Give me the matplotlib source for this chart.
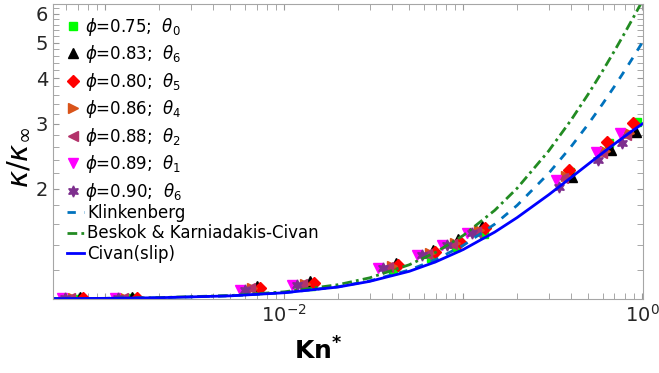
import matplotlib
matplotlib.use("Agg")
import matplotlib.pyplot as plt
import numpy as np
from matplotlib.ticker import FixedLocator, NullFormatter

# measured points, one list per series (legend order)
labels = [r"$\phi$=0.75;  $\theta_0$", r"$\phi$=0.83;  $\theta_6$",
          r"$\phi$=0.80;  $\theta_5$", r"$\phi$=0.86;  $\theta_4$",
          r"$\phi$=0.88;  $\theta_2$", r"$\phi$=0.89;  $\theta_1$",
          r"$\phi$=0.90;  $\theta_6$"]

kn_075 = [7.07e-4, 1.397e-3, 7.16e-3, 1.415e-2, 4.06e-2, 6.63e-2, 9.14e-2, 0.131, 0.396, 0.654, 0.938]
k_075 = [1.002, 1.004, 1.058, 1.085, 1.200, 1.293, 1.386, 1.503, 2.218, 2.661, 3.036]
kn_083 = [7.25e-4, 1.415e-3, 7.07e-3, 1.397e-2, 4.22e-2, 6.80e-2, 9.38e-2, 0.1277, 0.406, 0.671, 0.926]
k_083 = [1.010, 1.014, 1.085, 1.119, 1.254, 1.360, 1.457, 1.581, 2.150, 2.547, 2.850]
kn_080 = [7.54e-4, 1.510e-3, 7.34e-3, 1.471e-2, 4.34e-2, 6.98e-2, 9.62e-2, 0.1327, 0.391, 0.637, 0.891]
k_080 = [1.006, 1.009, 1.071, 1.106, 1.238, 1.343, 1.430, 1.561, 2.246, 2.678, 3.017]
kn_086 = [6.63e-4, 1.293e-3, 6.63e-3, 1.31e-2, 4.01e-2, 6.54e-2, 9.02e-2, 0.1229, 0.376, 0.621, 0.846]
k_086 = [1.006, 1.009, 1.071, 1.099, 1.230, 1.335, 1.421, 1.542, 2.163, 2.531, 2.834]
kn_088 = [6.38e-4, 1.260e-3, 6.46e-3, 1.260e-2, 3.81e-2, 6.30e-2, 8.68e-2, 0.1182, 0.362, 0.598, 0.814]
k_088 = [1.005, 1.008, 1.071, 1.099, 1.222, 1.326, 1.412, 1.522, 2.136, 2.499, 2.798]
kn_089 = [5.75e-4, 1.137e-3, 5.68e-3, 1.108e-2, 3.35e-2, 5.53e-2, 7.63e-2, 0.1053, 0.331, 0.553, 0.754]
k_089 = [1.004, 1.006, 1.058, 1.092, 1.215, 1.318, 1.403, 1.513, 2.110, 2.515, 2.834]
kn_090 = [5.98e-4, 1.182e-3, 6.05e-3, 1.182e-2, 3.57e-2, 5.90e-2, 8.14e-2, 0.1123, 0.344, 0.568, 0.773]
k_090 = [1.004, 1.006, 1.058, 1.092, 1.215, 1.318, 1.403, 1.513, 2.020, 2.392, 2.661]

# model curves
kn_curve = [5e-4, 1e-3, 2e-3, 5e-3, 1e-2, 2e-2, 3e-2, 5e-2, 0.07, 0.1, 0.15,
            0.2, 0.3, 0.4, 0.5, 0.6, 0.7, 0.8, 0.9, 1.0]
klink = [1.002, 1.004, 1.008, 1.02, 1.04, 1.08, 1.12, 1.2, 1.28, 1.4, 1.6,
         1.8, 2.2, 2.6, 3.0, 3.4, 3.8, 4.2, 4.6, 5.0]
beskok = [1.002, 1.004, 1.009, 1.022, 1.046, 1.094, 1.142, 1.240, 1.340, 1.490, 1.745,
          2.004, 2.532, 3.072, 3.622, 4.180, 4.747, 5.320, 5.898, 6.482]
civan = [1.002, 1.004, 1.008, 1.020, 1.040, 1.078, 1.117, 1.190, 1.262, 1.364, 1.522,
         1.667, 1.923, 2.143, 2.333, 2.500, 2.647, 2.778, 2.895, 3.0]

kns = [kn_075, kn_083, kn_080, kn_086, kn_088, kn_089, kn_090]
ks = [k_075, k_083, k_080, k_086, k_088, k_089, k_090]
colors = ["#00ff00", "black", "#ff0000", "#d95319", "#b3336b", "#ff00ff", "#7e2f8e"]
markers = ["s", "^", "D", ">", "<", "v", (6, 1, 0)]
msizes = [6, 7, 6, 7, 7, 6.5, 8]

fig = plt.figure(figsize=(6.59, 3.73), dpi=100)
ax = fig.add_axes([0.0804, 0.1984, 0.8953, 0.7909])

pts = []
for kn, k, c, m, ms, lab in zip(kns, ks, colors, markers, msizes, labels):
    h, = ax.plot(kn, k, linestyle="none", marker=m, color=c, markersize=ms, label=lab)
    pts.append(h)

l1, = ax.plot(kn_curve, klink, color="#0072bd", lw=2, dashes=(3, 3), label="Klinkenberg")
l2, = ax.plot(kn_curve, beskok, color="#228b22", lw=2, dashes=(3.5, 1.5, 1, 1.5),
              label="Beskok & Karniadakis-Civan")
l3, = ax.plot(kn_curve, civan, color="#0000ff", lw=2, label="Civan(slip)")

ax.set_xscale("log")
ax.set_yscale("log")
ax.set_xlim(5.1e-4, 1.01)
ax.set_ylim(1.0, 6.37)

ax.xaxis.set_major_locator(FixedLocator([1e-3, 1e-2, 1e-1, 1.0]))
ax.set_xticklabels(["", r"$\mathdefault{10^{-2}}$", "", r"$\mathdefault{10^{0}}$"])
minor_x = [m * 10.0 ** e for e in (-4, -3, -2, -1) for m in range(2, 10)]
ax.xaxis.set_minor_locator(FixedLocator(minor_x))
ax.xaxis.set_minor_formatter(NullFormatter())

ax.yaxis.set_major_locator(FixedLocator([2, 3, 4, 5, 6]))
ax.set_yticklabels(["2", "3", "4", "5", "6"])
ax.yaxis.set_minor_locator(FixedLocator(list(np.arange(1.2, 6.4, 0.2))))
ax.yaxis.set_minor_formatter(NullFormatter())

ax.tick_params(which="both", direction="in", top=True, right=True, length=4,
               color="0.6", labelsize=14, labelcolor="#262626")
for sp in ax.spines.values():
    sp.set_color("0.65")

ax.set_ylabel(r"$\kappa/\kappa_\infty$", fontsize=21)
ax.yaxis.set_label_coords(-0.035, 0.48)
ax.set_xlabel(r"Kn$^{\mathbf{*}}$", fontsize=18, fontweight="bold", labelpad=4)
ax.xaxis.set_label_coords(0.45, -0.13)

leg1 = ax.legend(handles=pts, loc="upper left", frameon=False, fontsize=12,
                 handlelength=1.0, handletextpad=0.2, labelspacing=0.33,
                 borderaxespad=0.3)
ax.add_artist(leg1)
ax.legend(handles=[l1, l2, l3], loc="upper left", bbox_to_anchor=(0.0, 0.37),
          frameon=False, fontsize=12, handlelength=1.0, handletextpad=0.2,
          labelspacing=0.14, borderaxespad=0.45)

fig.savefig("out.png", dpi=100)
